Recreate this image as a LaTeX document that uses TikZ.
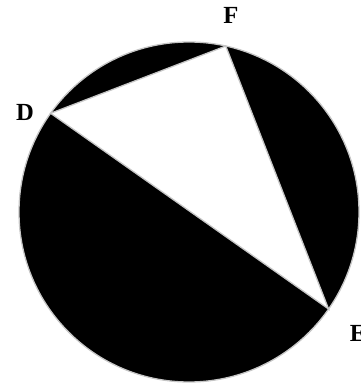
\documentclass[tikz,border=0pt]{standalone}
\usepackage{fontspec}
\setmainfont{Liberation Serif}
\tikzset{
	rim/.style={draw=gray!45, line width=1.1pt},
	lbl/.style={font=\fontsize{21}{21}\selectfont\bfseries, inner sep=0pt}
}
\begin{document}
\begin{tikzpicture}[x=0.03cm, y=0.03cm]
			\useasboundingbox (0,0) rectangle (361,383);
			\coordinate (O) at (189,171);
			\coordinate (D) at ([shift={(144.5:170)}]O);
			\coordinate (F) at ([shift={(77.5:170)}]O);
			\coordinate (E) at ([shift={(-34.8:170)}]O);
			\fill[black] (O) circle[radius=170];
			\draw[rim, fill=white] (D) -- (F) -- (E) -- cycle;
			\draw[rim] (O) circle[radius=170];
			\node[lbl] (labD) at (25,271) {D};
			\node[lbl] (labF) at (231,368) {F};
			\node[lbl] (labE) at (358,50) {E};
		\end{tikzpicture}
\end{document}
